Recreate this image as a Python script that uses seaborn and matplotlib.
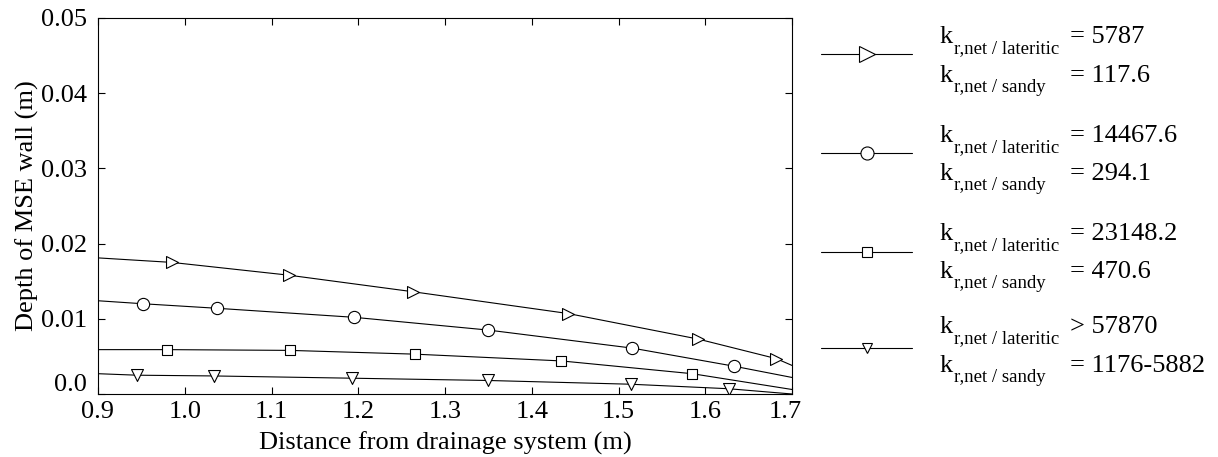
import matplotlib.pyplot as plt
import seaborn as sns
from matplotlib.transforms import ScaledTranslation

# curves (x in m, depth in m); first/last points are line ends,
# interior points are where the markers sit
tri_right_x = [0.9, 0.985, 1.120, 1.263, 1.442, 1.592, 1.682, 1.7]
tri_right_y = [0.0181, 0.0175, 0.0158, 0.0136, 0.0107, 0.0073, 0.0047, 0.0038]

circle_x = [0.9, 0.952, 1.037, 1.195, 1.350, 1.516, 1.633, 1.7]
circle_y = [0.0124, 0.0120, 0.0114, 0.0102, 0.0085, 0.0061, 0.0037, 0.0022]

square_x = [0.9, 0.980, 1.121, 1.265, 1.434, 1.585, 1.7]
square_y = [0.0059, 0.0059, 0.0058, 0.0053, 0.0044, 0.0027, 0.0006]

tri_down_x = [0.9, 0.945, 1.034, 1.193, 1.349, 1.514, 1.627, 1.7]
tri_down_y = [0.0027, 0.0025, 0.0024, 0.0021, 0.0018, 0.0013, 0.0007, 0.0]

x_ticks = [0.9, 1.0, 1.1, 1.2, 1.3, 1.4, 1.5, 1.6, 1.7]
x_tick_labels = ["0.9", "1.0", "1.1", "1.2", "1.3", "1.4", "1.5", "1.6", "1.7"]
y_ticks = [0.0, 0.01, 0.02, 0.03, 0.04, 0.05]
y_tick_labels = ["0.0", "0.01", "0.02", "0.03", "0.04", "0.05"]

legend_lateritic = ["= 5787", "= 14467.6", "= 23148.2", "> 57870"]
legend_sandy = ["= 117.6", "= 294.1", "= 470.6", "= 1176-5882"]

series = [
    (tri_right_x, tri_right_y, ">", 8.6, 12.2),
    (circle_x, circle_y, "o", 8.8, 9.4),
    (square_x, square_y, "s", 7.9, 7.9),
    (tri_down_x, tri_down_y, "v", 8.6, 7.9),
]

sns.set_style("ticks")
plt.rcParams["font.family"] = ["Liberation Serif", "DejaVu Serif"]
plt.rcParams["font.size"] = 19
plt.rcParams["text.color"] = "black"
plt.rcParams["axes.labelcolor"] = "black"

fig = plt.figure(figsize=(12.18, 4.57), dpi=100)
ax = fig.add_axes([98 / 1218, 63 / 457, 694 / 1218, 376 / 457])

for xs, ys, mk, ms, _ in series:
    sns.lineplot(x=xs, y=ys, ax=ax, color="black", linewidth=0.8, zorder=2)
    sns.scatterplot(
        x=xs[1:-1], y=ys[1:-1], ax=ax, marker=mk, s=ms**2,
        facecolor="white", edgecolor="black", linewidth=0.8, zorder=3,
    )

ax.set_xlim(0.9, 1.7)
ax.set_ylim(0.0, 0.05)
ax.set_xticks(x_ticks, x_tick_labels)
ax.set_yticks(y_ticks, y_tick_labels)
ax.tick_params(direction="in", length=5, width=0.8, top=True, right=True,
               labelsize=19, colors="black")
ax.tick_params(axis="y", pad=8)
ax.tick_params(axis="x", pad=5)
for s in ax.spines.values():
    s.set_linewidth(0.8)
    s.set_color("black")

ax.set_xlabel("Distance from drainage system (m)", fontsize=19, labelpad=6)
ax.set_ylabel("Depth of MSE wall (m)", fontsize=19, labelpad=1)

# the 0.0 label sits a bit above its tick in the original, 1.7 a bit left
ax.get_yticklabels()[0].set_transform(
    ax.get_yticklabels()[0].get_transform() + ScaledTranslation(0, 8 / 72, fig.dpi_scale_trans))
ax.get_xticklabels()[-1].set_transform(
    ax.get_xticklabels()[-1].get_transform() + ScaledTranslation(-5 / 72, 0, fig.dpi_scale_trans))

# hand-built legend on the right, in figure pixel units
leg = fig.add_axes([0, 0, 1, 1])
leg.set_xlim(0, 1218)
leg.set_ylim(457, 0)
leg.axis("off")

handle_y = [54, 153, 252, 348]
upper_base = [43, 142, 240, 333]
lower_base = [82, 180, 278, 372]
for i, (xs, ys, mk, ms, lms) in enumerate(series):
    leg.plot([821, 912], [handle_y[i], handle_y[i]], color="black", linewidth=0.8)
    leg.plot([867], [handle_y[i]], marker=mk, markersize=lms, markerfacecolor="white",
             markeredgecolor="black", markeredgewidth=0.8, linestyle="none")
    for base, sub, val in [(upper_base[i], "r,net / lateritic", legend_lateritic[i]),
                           (lower_base[i], "r,net / sandy", legend_sandy[i])]:
        leg.text(940, base, "k", fontsize=19, va="baseline", ha="left")
        leg.text(954, base + 10, sub, fontsize=13.5, va="baseline", ha="left")
        leg.text(1070, base, val, fontsize=19, va="baseline", ha="left")

fig.savefig("out.png", dpi=100)
